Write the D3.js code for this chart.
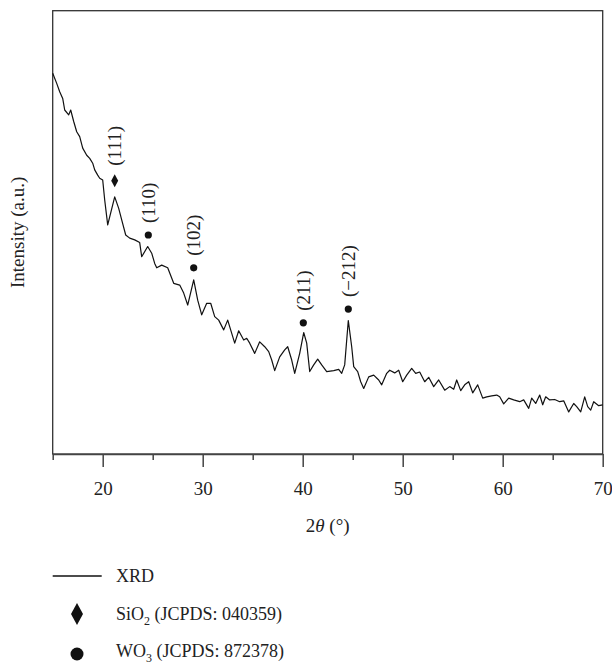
<!DOCTYPE html>
<html>
<head>
<meta charset="utf-8">
<script src="https://cdn.jsdelivr.net/npm/d3@7"></script>
<style>
  body { margin: 0; background: #fff; }
  svg text { font-family: 'Liberation Serif', 'Times New Roman', serif; fill: #222; }
  .frame { fill: none; stroke: #333; stroke-width: 1.3; }
  .line { fill: none; stroke: #111; stroke-width: 1.2; stroke-linejoin: round; }
  .axis path, .axis line { stroke: #444; stroke-width: 1.5; }
</style>
</head>
<body>
<svg id="chart" width="612" height="665"></svg>
<script>
// XRD pattern (2θ in degrees, intensity in a.u.)
const twoTheta = [15.0,15.4,15.7,16.0,16.2,16.6,16.8,17.1,17.4,17.7,18.0,18.4,18.7,19.0,19.2,19.5,19.7,20.0,20.2,20.5,21.2,21.6,21.9,22.3,22.7,23.2,23.7,23.9,24.5,24.9,25.2,25.4,25.9,26.5,27.1,27.7,28.1,28.5,29.1,29.5,29.9,30.4,30.8,31.2,31.6,32.1,32.5,33.2,33.6,34.1,34.4,34.7,35.2,35.7,36.2,36.6,36.9,37.2,37.7,38.2,38.5,38.9,39.2,39.7,40.1,40.4,40.7,41.1,41.5,41.9,42.4,43.1,43.6,43.9,44.2,44.56,44.9,45.1,45.5,45.8,46.1,46.6,47.1,47.6,47.9,48.4,48.7,49.2,49.6,50.0,50.4,50.9,51.3,51.7,52.2,52.6,53.1,53.6,54.2,54.7,55.1,55.4,55.8,56.2,56.6,57.0,57.5,58.0,58.4,58.9,59.4,59.7,60.1,60.6,61.1,61.7,62.1,62.6,62.9,63.3,63.7,64.0,64.3,64.7,65.2,65.7,66.1,66.6,67.1,67.4,67.8,68.2,68.5,68.8,69.1,69.6,70.0];
const intensity = [85.9,83.6,81.7,80.2,77.6,76.5,77.6,75.0,72.7,71.6,69.0,67.4,66.7,65.6,64.1,62.9,62.2,61.8,57.3,51.7,58.0,55.4,52.8,49.4,48.7,48.3,47.7,44.5,46.8,45.3,43.0,42.0,42.6,42.0,38.5,38.1,36.3,33.6,39.3,34.7,31.4,34.0,34.0,31.0,30.2,28.0,30.2,25.0,27.8,25.7,26.1,25.0,22.7,25.3,24.2,23.1,21.2,18.8,21.9,23.5,24.2,21.2,18.2,22.7,27.4,25.0,18.6,20.1,21.4,20.1,18.6,18.8,19.1,18.2,20.1,30.1,24.2,19.7,18.6,16.3,14.8,17.4,17.8,16.7,15.6,18.2,18.9,18.3,18.9,16.3,17.8,19.3,18.2,18.5,16.3,17.3,15.2,16.7,14.4,15.2,14.6,16.7,14.3,15.6,16.3,13.8,15.6,12.6,12.9,13.1,13.3,12.9,11.3,12.6,12.2,11.8,12.2,10.3,12.6,11.4,13.3,11.1,12.9,12.2,12.3,11.8,12.0,9.5,11.4,10.7,9.5,12.9,10.7,9.9,11.8,10.9,11.1];

// peak markers
const peakPos = [21.2, 24.56, 29.1, 40.06, 44.56];
const peakMark = [61.65, 49.4, 42.0, 29.6, 32.7];
const peakLabel = ['(111)', '(110)', '(102)', '(211)', '(\u2212212)'];
const peakPhase = ['SiO2', 'WO3', 'WO3', 'WO3', 'WO3'];

const xTicks = [20, 30, 40, 50, 60, 70];
const xMinorTicks = [15, 25, 35, 45, 55, 65];

const legendItems = ['XRD', 'SiO2', 'WO3'];

const plot = {left: 52.7, right: 602.7, top: 10.7, bottom: 454};

const svg = d3.select('#chart');

let x = d3.scaleLinear().domain([15, 70]).range([plot.left, plot.right]);
let y = d3.scaleLinear().domain([0, 100]).range([plot.bottom, plot.top]);

// diamond path centred on 0,0
function diamond(w, h) {
  let p = d3.path();
  p.moveTo(0, -h/2);
  p.lineTo(w/2, 0);
  p.lineTo(0, h/2);
  p.lineTo(-w/2, 0);
  p.closePath();
  return p.toString();
}

// frame
svg.append('rect')
  .attr('class', 'frame')
  .attr('x', plot.left)
  .attr('y', plot.top)
  .attr('width', plot.right - plot.left)
  .attr('height', plot.bottom - plot.top);

// minor ticks
svg.append('g')
  .attr('class', 'axis')
  .attr('transform', 'translate(0,' + plot.bottom + ')')
  .call(d3.axisBottom(x).tickValues(xMinorTicks).tickSize(6).tickFormat(''))
  .select('.domain').remove();

// major ticks + labels
let xAxis = svg.append('g')
  .attr('class', 'axis')
  .attr('transform', 'translate(0,' + plot.bottom + ')')
  .call(d3.axisBottom(x).tickValues(xTicks).tickSize(13).tickSizeOuter(0).tickPadding(15));
xAxis.selectAll('text')
  .style('font-size', '19px')
  .style('font-family', "'Liberation Serif', serif")
  .attr('fill', '#222');

// axis titles
let xt = svg.append('text')
  .attr('x', (plot.left + plot.right) / 2)
  .attr('y', 532)
  .attr('text-anchor', 'middle')
  .style('font-size', '19px');
xt.append('tspan').text('2');
xt.append('tspan').style('font-style', 'italic').text('\u03b8');
xt.append('tspan').text(' (\u00b0)');

svg.append('text')
  .attr('transform', 'translate(24,' + (plot.top + plot.bottom) / 2 + ') rotate(-90)')
  .attr('text-anchor', 'middle')
  .style('font-size', '19px')
  .text('Intensity (a.u.)');

// the pattern
let data = twoTheta.map((t, i) => ({t: t, v: intensity[i]}));
let valueLine = d3.line()
  .x(function(d) {return x(d.t);})
  .y(function(d) {return y(d.v);});

svg.append('path')
  .data([data])
  .attr('class', 'line')
  .attr('d', valueLine);

// peak markers and labels
peakPos.forEach(function(p, i) {
  let cx = x(p), cy = y(peakMark[i]);
  let gap;
  if (peakPhase[i] === 'SiO2') {
    svg.append('path')
      .attr('d', diamond(7, 13))
      .attr('transform', 'translate(' + cx + ',' + cy + ')')
      .attr('fill', '#111');
    gap = 15;
  } else {
    svg.append('circle')
      .attr('cx', cx)
      .attr('cy', cy)
      .attr('r', 3.6)
      .attr('fill', '#111');
    gap = 12;
  }
  svg.append('text')
    .attr('transform', 'translate(' + cx + ',' + (cy - gap) + ') rotate(-90)')
    .attr('dy', '0.35em')
    .style('font-size', '19px')
    .text(peakLabel[i]);
});

// legend
const rowY = [576, 614, 651];
let legend = svg.append('g').attr('class', 'legend');
legend.append('line')
  .attr('x1', plot.left)
  .attr('x2', 101.7)
  .attr('y1', rowY[0])
  .attr('y2', rowY[0])
  .attr('stroke', '#111')
  .attr('stroke-width', 1.3);
legend.append('path')
  .attr('d', diamond(12, 22))
  .attr('transform', 'translate(77,' + rowY[1] + ')')
  .attr('fill', '#111');
legend.append('circle')
  .attr('cx', 77)
  .attr('cy', rowY[2] + 3)
  .attr('r', 6.5)
  .attr('fill', '#111');

function legendText(yPos, parts) {
  let t = legend.append('text')
    .attr('x', 116)
    .attr('y', yPos + 6)
    .style('font-size', '18px');
  parts.forEach(function(pt) {
    let s = t.append('tspan').text(pt.s);
    if (pt.sub) {
      s.attr('dy', 5).style('font-size', '12px');
    } else if (pt.back) {
      s.attr('dy', -5);
    }
  });
}
legendText(rowY[0], [{s: legendItems[0]}]);
legendText(rowY[1], [{s: 'SiO'}, {s: '2', sub: true}, {s: ' (JCPDS: 040359)', back: true}]);
legendText(rowY[2], [{s: 'WO'}, {s: '3', sub: true}, {s: ' (JCPDS: 872378)', back: true}]);
</script>
</body>
</html>
